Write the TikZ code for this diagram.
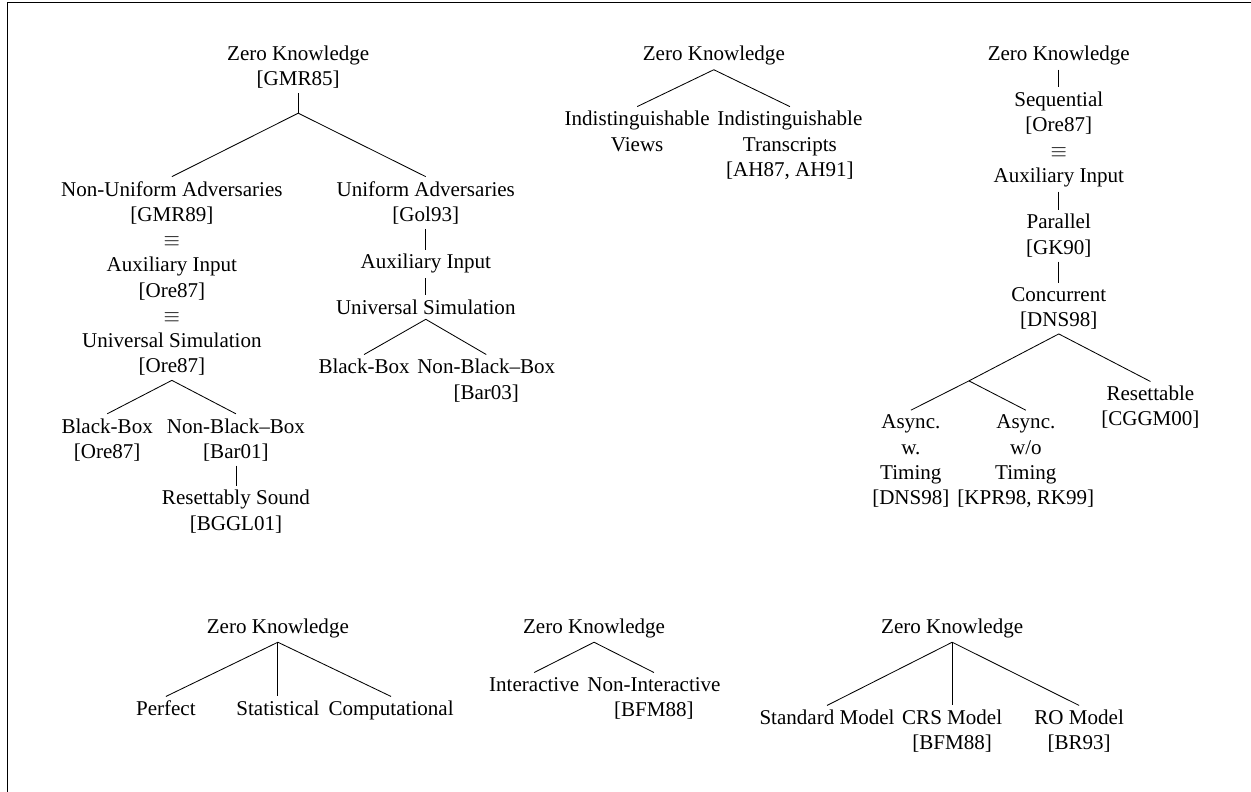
\documentclass[tikz,border=0pt]{standalone}
\usepackage{fontspec}
\setmainfont{Liberation Serif}
\usepackage{amsmath}

\begin{document}
\begin{tikzpicture}[term/.style={align=center, anchor=north, inner sep=2pt}]
            \useasboundingbox (0,0) rectangle (20.89,-13.22);
            \draw[line width=0.7pt] (0.125,-13.22) -- (0.125,-0.04) -- (20.89,-0.04);

            \node[term] (zkA) at (4.98,-0.69) {Zero Knowledge\\{[GMR85]}};
            \coordinate (brA) at (4.98,-1.89);
            \node[term] (nonuni) at (2.87,-2.95) {Non-Uniform Adversaries\\{[GMR89]}\\$\equiv$\\Auxiliary Input\\{[Ore87]}\\$\equiv$\\Universal Simulation\\{[Ore87]}};
            \node[term] (bbA) at (1.79,-6.91) {Black-Box\\{[Ore87]}};
            \node[term] (nbbA) at (3.94,-6.91) {Non-Black--Box\\{[Bar01]}};
            \node[term] (rsound) at (3.94,-8.11) {Resettably Sound\\{[BGGL01]}};
            \node[term] (uni) at (7.11,-2.95) {Uniform Adversaries\\{[Gol93]}};
            \node[term] (auxB) at (7.11,-4.17) {Auxiliary Input};
            \node[term] (usimB) at (7.11,-4.93) {Universal Simulation};
            \node[term] (bbB) at (6.08,-5.92) {Black-Box};
            \node[term] (nbbB) at (8.12,-5.92) {Non-Black--Box\\{[Bar03]}};

            \node[term] (zkB) at (11.92,-0.69) {Zero Knowledge};
            \node[term] (views) at (10.64,-1.78) {Indistinguishable\\Views};
            \node[term] (transc) at (13.19,-1.78) {Indistinguishable\\Transcripts\\{[AH87, AH91]}};

            \node[term] (zkC) at (17.68,-0.69) {Zero Knowledge};
            \node[term] (seq) at (17.68,-1.46) {Sequential\\{[Ore87]}\\$\equiv$\\Auxiliary Input};
            \node[term] (par) at (17.68,-3.50) {Parallel\\{[GK90]}};
            \node[term] (conc) at (17.68,-4.72) {Concurrent\\{[DNS98]}};
            \coordinate (brF) at (16.18,-6.36);
            \node[term] (asyncw) at (15.21,-6.85) {Async.\\w.\\Timing\\{[DNS98]}};
            \node[term] (asyncwo) at (17.13,-6.85) {Async.\\w/o\\Timing\\{[KPR98, RK99]}};
            \node[term] (reset) at (19.21,-6.37) {Resettable\\{[CGGM00]}};

            \node[term] (zkD) at (4.64,-10.25) {Zero Knowledge};
            \node[term] (perf) at (2.77,-11.63) {Perfect};
            \node[term] (stat) at (4.64,-11.63) {Statistical};
            \node[term] (comp) at (6.53,-11.63) {Computational};

            \node[term] (zkE) at (9.92,-10.25) {Zero Knowledge};
            \node[term] (inter) at (8.92,-11.23) {Interactive};
            \node[term] (noninter) at (10.92,-11.23) {Non-Interactive\\{[BFM88]}};

            \node[term] (zkF) at (15.90,-10.25) {Zero Knowledge};
            \node[term] (std) at (13.81,-11.78) {Standard Model};
            \node[term] (crs) at (15.90,-11.78) {CRS Model\\{[BFM88]}};
            \node[term] (ro) at (18.02,-11.78) {RO Model\\{[BR93]}};

            \draw (zkA) -- (brA);
            \draw (brA) -- (nonuni.north);
            \draw (brA) -- (uni.north);
            \draw (nonuni.south) -- (bbA.north);
            \draw (nonuni.south) -- (nbbA.north);
            \draw (nbbA) -- (rsound);
            \draw (uni) -- (auxB);
            \draw (auxB) -- (usimB);
            \draw (usimB.south) -- (bbB.north);
            \draw (usimB.south) -- (nbbB.north);

            \draw (zkB.south) -- (views.north);
            \draw (zkB.south) -- (transc.north);

            \draw (zkC) -- (seq);
            \draw (seq) -- (par);
            \draw (par) -- (conc);
            \draw (conc.south) -- (brF);
            \draw (conc.south) -- (reset.north);
            \draw (brF) -- (asyncw.north);
            \draw (brF) -- (asyncwo.north);

            \draw (zkD.south) -- (perf.north);
            \draw (zkD.south) -- (stat.north);
            \draw (zkD.south) -- (comp.north);

            \draw (zkE.south) -- (inter.north);
            \draw (zkE.south) -- (noninter.north);

            \draw (zkF.south) -- (std.north);
            \draw (zkF.south) -- (crs.north);
            \draw (zkF.south) -- (ro.north);
        \end{tikzpicture}
\end{document}
